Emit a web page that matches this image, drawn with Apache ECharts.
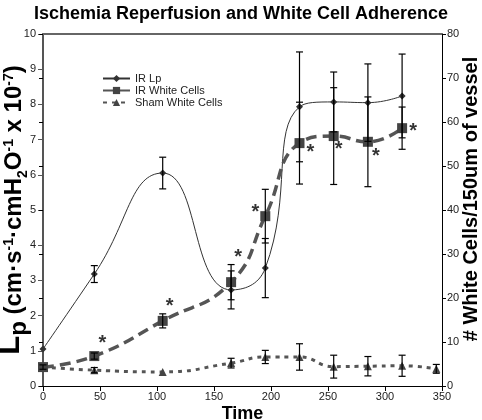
<!DOCTYPE html>
<html>
<head>
<meta charset="utf-8">
<script src="https://cdn.jsdelivr.net/npm/echarts@6/dist/echarts.min.js"></script>
<style>
html,body{margin:0;padding:0;background:#fff;}
#chart{width:482px;height:420px;}
</style>
</head>
<body>
<div id="chart"></div>
<script>
// ---- data ----
const times = [0, 45, 105, 165, 195, 225, 255, 285, 315];
const irLp = [1.05, 3.18, 6.05, 2.73, 3.35, 7.93, 8.07, 8.05, 8.24];
const irLpErr = [0, 0.24, 0.45, 0.54, 0.84, 1.56, 0.85, 1.1, 1.19];
const irWc = [4.3, 6.8, 14.8, 23.6, 38.6, 55.2, 56.8, 55.5, 58.6];
const irWcErr = [0.5, 0.7, 1.6, 4.0, 6.1, 9.3, 11.0, 10.2, 4.8];
const shamTimes = [0, 45, 105, 165, 195, 225, 255, 285, 315, 345];
const shamWc = [4.3, 3.6, 3.2, 5.2, 6.6, 6.6, 4.4, 4.5, 4.6, 3.9];
const shamErr = [0, 0.6, 0, 1.1, 1.5, 3.0, 2.6, 2.2, 2.4, 1.0];
const starMarked = [false, true, true, true, true, true, true, true, true];
const xTicks = { min: 0, max: 350, step: 50 };
const lpTicks = { min: 0, max: 10, step: 1 };
const wcTicks = { min: 0, max: 80, step: 10 };

// label placement for the significance stars (pixels, relative to the point)
const starOffsets = [null, [8, -13], [7, -14], [7, -25], [-10, -4], [11, 9], [5, 13], [8, 15], [11, 3]];

const FONT = "'Liberation Sans', Arial, sans-serif";

function errRender(params, api) {
  const x = api.value(0), y = api.value(1), e = api.value(2);
  if (!e) return null;
  const top = api.coord([x, y + e]);
  const bot = api.coord([x, y - e]);
  const hw = 3.5;
  const st = { stroke: '#000', lineWidth: 1.2 };
  return {
    type: 'group',
    children: [
      { type: 'line', shape: { x1: top[0], y1: top[1], x2: bot[0], y2: bot[1] }, style: st },
      { type: 'line', shape: { x1: top[0] - hw, y1: top[1], x2: top[0] + hw, y2: top[1] }, style: st },
      { type: 'line', shape: { x1: bot[0] - hw, y1: bot[1], x2: bot[0] + hw, y2: bot[1] }, style: st }
    ]
  };
}

const lpData = times.map((t, i) => [t, irLp[i]]);
const wcData = times.map((t, i) => [t, irWc[i]]);
const shamData = shamTimes.map((t, i) => [t, shamWc[i]]);
const lpErrData = times.map((t, i) => [t, irLp[i], irLpErr[i]]);
const wcErrData = times.map((t, i) => [t, irWc[i], irWcErr[i]]);
const shamErrData = shamTimes.map((t, i) => [t, shamWc[i], shamErr[i]]);
const starData = [];
times.forEach((t, i) => {
  if (starMarked[i]) starData.push({ value: [t, irWc[i]], label: { offset: starOffsets[i] } });
});

const richBase = { fontFamily: FONT, fontWeight: 'bold', color: '#000', verticalAlign: 'bottom', lineHeight: 30 };

const chart = echarts.init(document.getElementById('chart'), null, { renderer: 'canvas' });
chart.setOption({
  animation: false,
  backgroundColor: '#fff',
  textStyle: { fontFamily: FONT },
  title: {
    text: 'Ischemia Reperfusion and White Cell Adherence',
    left: 'center', top: 0,
    textStyle: { fontFamily: FONT, fontSize: 18, fontWeight: 'bold', color: '#000' }
  },
  legend: {
    orient: 'vertical', left: 97, top: 68,
    itemWidth: 27, itemHeight: 9, itemGap: 1,
    textStyle: { fontFamily: FONT, fontSize: 11, color: '#222' },
    data: ['IR Lp', 'IR White Cells', 'Sham White Cells']
  },
  grid: { left: 43, right: 40, top: 34, bottom: 34, containLabel: false, outerBoundsMode: 'none' },
  xAxis: [{
    type: 'value', min: xTicks.min, max: xTicks.max, interval: xTicks.step, position: 'bottom',
    axisLine: { show: true, onZero: false, lineStyle: { color: '#000', width: 1 } },
    axisTick: { show: true, length: 5, lineStyle: { color: '#000' } },
    axisLabel: { fontFamily: FONT, fontSize: 11, color: '#222', margin: 5 },
    splitLine: { show: false },
    name: 'Time', nameLocation: 'middle', nameGap: 19, nameMoveOverlap: false,
    nameTextStyle: { fontFamily: FONT, fontSize: 18, fontWeight: 'bold', color: '#000' }
  }, {
    type: 'value', min: xTicks.min, max: xTicks.max, position: 'top',
    axisLine: { show: true, onZero: false, lineStyle: { color: '#666', width: 2 } },
    axisTick: { show: false }, axisLabel: { show: false }, splitLine: { show: false }
  }],
  yAxis: [{
    type: 'value', min: lpTicks.min, max: lpTicks.max, interval: lpTicks.step, position: 'left',
    axisLine: { show: true, onZero: false, lineStyle: { color: '#555', width: 2 } },
    axisTick: { show: true, length: 5, lineStyle: { color: '#555' } },
    axisLabel: { fontFamily: FONT, fontSize: 11, color: '#222', margin: 7 },
    splitLine: { show: false },
    name: '{L|L}{p|p}{t| (cm·s}{sup|-1}{t|·cmH}{sub|2}{t|O}{sup|-1}{t| x 10}{sup|-7}{t|)}',
    nameLocation: 'middle', nameGap: 17, nameMoveOverlap: false,
    nameTextStyle: {
      fontFamily: FONT, fontWeight: 'bold', color: '#000',
      rich: {
        L: Object.assign({}, richBase, { fontSize: 31 }),
        p: Object.assign({}, richBase, { fontSize: 24, padding: [0, 0, -5, 0] }),
        t: Object.assign({}, richBase, { fontSize: 24 }),
        sup: Object.assign({}, richBase, { fontSize: 14, padding: [0, 0, 10, 0] }),
        sub: Object.assign({}, richBase, { fontSize: 14, padding: [0, 0, -4, 0] })
      }
    }
  }, {
    type: 'value', min: wcTicks.min, max: wcTicks.max, interval: wcTicks.step, position: 'right',
    axisLine: { show: true, onZero: false, lineStyle: { color: '#000', width: 1 } },
    axisTick: { show: true, length: 4, lineStyle: { color: '#000' } },
    axisLabel: { fontFamily: FONT, fontSize: 11, color: '#222', margin: 5 },
    splitLine: { show: false },
    name: '# White Cells/150um of vessel', nameLocation: 'middle', nameGap: 19, nameMoveOverlap: false,
    nameTextStyle: { fontFamily: FONT, fontSize: 20, fontWeight: 'bold', color: '#000', padding: [0, 0, 0, 22] }
  }, {
    type: 'value', min: wcTicks.min, max: wcTicks.max, interval: wcTicks.step, position: 'right',
    axisLine: { show: false },
    axisTick: { show: true, inside: true, length: 4, lineStyle: { color: '#000' } },
    axisLabel: { show: false }, splitLine: { show: false }
  }],
  series: [{
    name: 'IR Lp', type: 'line', xAxisIndex: 0, yAxisIndex: 0, data: lpData, smooth: 0.5,
    symbol: 'diamond', symbolSize: 7,
    lineStyle: { color: '#333', width: 1 },
    itemStyle: { color: '#333' }, z: 3
  }, {
    name: 'IR White Cells', type: 'line', xAxisIndex: 0, yAxisIndex: 1, data: wcData, smooth: 0.5,
    symbol: 'rect', symbolSize: 10,
    lineStyle: { color: '#555', width: 3.5, type: [11, 6] },
    itemStyle: { color: '#444' }, z: 4
  }, {
    name: 'Sham White Cells', type: 'line', xAxisIndex: 0, yAxisIndex: 1, data: shamData, smooth: 0.5,
    symbol: 'triangle', symbolSize: 8,
    lineStyle: { color: '#555', width: 3, type: [4, 5] },
    itemStyle: { color: '#444' }, z: 4
  }, {
    type: 'custom', xAxisIndex: 0, yAxisIndex: 0, data: lpErrData, renderItem: errRender,
    encode: { x: 0, y: 1 }, z: 5, silent: true
  }, {
    type: 'custom', xAxisIndex: 0, yAxisIndex: 1, data: wcErrData, renderItem: errRender,
    encode: { x: 0, y: 1 }, z: 5, silent: true
  }, {
    type: 'custom', xAxisIndex: 0, yAxisIndex: 1, data: shamErrData, renderItem: errRender,
    encode: { x: 0, y: 1 }, z: 5, silent: true
  }, {
    type: 'scatter', xAxisIndex: 0, yAxisIndex: 1, data: starData, symbolSize: 0, silent: true,
    label: {
      show: true, formatter: '*', position: 'inside',
      fontFamily: FONT, fontSize: 20, fontWeight: 'bold', color: '#000'
    }, z: 6
  }]
});
</script>
</body>
</html>
